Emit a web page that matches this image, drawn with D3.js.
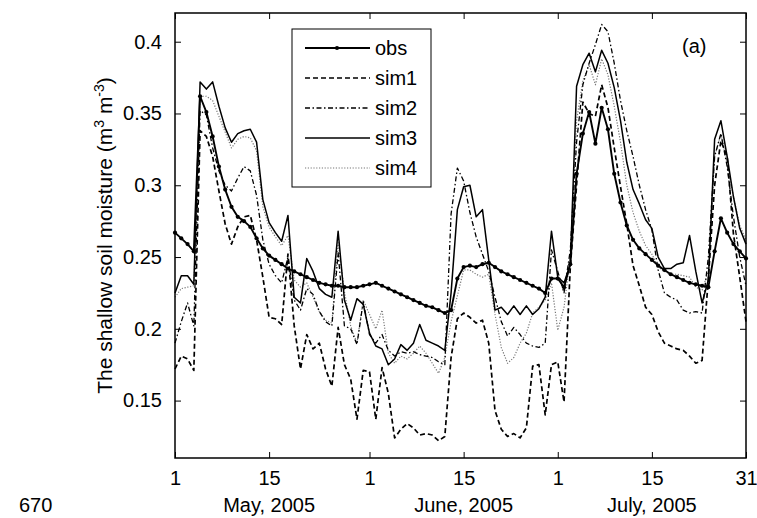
<!DOCTYPE html>
<html>
<head>
<meta charset="utf-8">
<script src="https://cdn.jsdelivr.net/npm/d3@7"></script>
<style>
  body { margin: 0; background: #fff; }
  text { font-family: "Liberation Sans", Arial, sans-serif; }
</style>
</head>
<body>
<script>
// day index 1 = May 1, 2005 ... 92 = July 31, 2005
const days = d3.range(1, 93);

const obs = [0.267,0.263,0.259,0.254,0.362,0.351,0.334,0.313,0.297,0.285,0.278,0.275,0.271,0.263,0.256,0.251,0.248,0.245,0.242,0.240,
  0.238,0.236,0.234,0.232,0.231,0.230,0.230,0.229,0.229,0.229,0.230,0.231,0.232,0.230,0.228,0.226,0.224,0.222,0.220,0.218,
  0.216,0.215,0.213,0.211,0.213,0.235,0.243,0.244,0.243,0.245,0.246,0.243,0.240,0.238,0.236,0.234,0.232,0.230,0.228,0.225,
  0.235,0.235,0.229,0.245,0.308,0.336,0.351,0.329,0.354,0.339,0.308,0.288,0.272,0.262,0.256,0.252,0.248,0.244,0.241,0.238,
  0.236,0.234,0.232,0.231,0.230,0.229,0.254,0.277,0.267,0.259,0.254,0.249];

const sim1 = [0.172,0.181,0.179,0.171,0.338,0.334,0.320,0.296,0.273,0.259,0.271,0.278,0.279,0.262,0.236,0.208,0.207,0.203,0.252,0.202,
  0.172,0.196,0.186,0.190,0.172,0.160,0.201,0.175,0.165,0.137,0.171,0.170,0.137,0.173,0.155,0.124,0.130,0.134,0.131,0.126,
  0.127,0.126,0.122,0.125,0.180,0.207,0.211,0.208,0.204,0.206,0.190,0.143,0.130,0.125,0.127,0.124,0.131,0.174,0.175,0.140,
  0.175,0.177,0.149,0.243,0.300,0.358,0.350,0.348,0.370,0.354,0.326,0.299,0.273,0.244,0.230,0.215,0.210,0.198,0.190,0.188,
  0.186,0.185,0.181,0.176,0.178,0.235,0.300,0.331,0.320,0.266,0.236,0.205];

const sim2 = [0.190,0.205,0.218,0.202,0.352,0.349,0.326,0.310,0.300,0.296,0.305,0.313,0.310,0.293,0.262,0.245,0.237,0.232,0.250,0.220,
  0.213,0.228,0.224,0.212,0.205,0.202,0.253,0.202,0.200,0.189,0.219,0.196,0.190,0.196,0.185,0.181,0.184,0.183,0.184,0.182,
  0.181,0.180,0.177,0.175,0.280,0.312,0.303,0.281,0.264,0.252,0.240,0.222,0.205,0.195,0.201,0.196,0.190,0.188,0.187,0.190,
  0.255,0.240,0.225,0.255,0.330,0.370,0.385,0.398,0.412,0.407,0.385,0.359,0.338,0.320,0.300,0.283,0.269,0.241,0.225,0.222,
  0.220,0.213,0.211,0.212,0.211,0.250,0.320,0.336,0.313,0.278,0.250,0.230];

const sim3 = [0.225,0.237,0.237,0.231,0.372,0.367,0.372,0.355,0.340,0.330,0.336,0.338,0.339,0.330,0.290,0.274,0.267,0.261,0.279,0.222,
  0.218,0.249,0.240,0.228,0.224,0.222,0.268,0.220,0.206,0.221,0.217,0.197,0.188,0.186,0.175,0.179,0.189,0.185,0.190,0.203,
  0.192,0.190,0.188,0.185,0.225,0.283,0.299,0.300,0.278,0.283,0.248,0.213,0.215,0.210,0.216,0.210,0.216,0.210,0.214,0.222,
  0.268,0.236,0.232,0.245,0.369,0.384,0.392,0.379,0.394,0.385,0.368,0.345,0.316,0.297,0.287,0.276,0.270,0.250,0.242,0.242,
  0.245,0.246,0.265,0.240,0.218,0.234,0.332,0.345,0.320,0.292,0.270,0.259];

const sim4 = [0.222,0.228,0.229,0.230,0.362,0.362,0.359,0.348,0.337,0.326,0.332,0.334,0.333,0.324,0.285,0.271,0.264,0.258,0.265,0.234,
  0.229,0.232,0.222,0.212,0.206,0.204,0.260,0.226,0.202,0.190,0.220,0.210,0.200,0.213,0.183,0.176,0.181,0.179,0.183,0.188,
  0.183,0.176,0.169,0.180,0.205,0.223,0.241,0.241,0.238,0.236,0.238,0.210,0.187,0.176,0.180,0.190,0.197,0.211,0.215,0.220,
  0.232,0.199,0.215,0.250,0.345,0.373,0.384,0.370,0.388,0.377,0.355,0.330,0.300,0.281,0.268,0.258,0.252,0.243,0.240,0.238,
  0.238,0.237,0.236,0.229,0.227,0.240,0.320,0.336,0.315,0.292,0.272,0.262];

const xTickDays = [1, 16, 32, 47, 62, 77, 92];
const xTickLabels = ["1", "15", "1", "15", "1", "15", "31"];
const monthDays = [16, 47, 77];
const monthLabels = ["May, 2005", "June, 2005", "July, 2005"];
const yTicks = [0.15, 0.2, 0.25, 0.3, 0.35, 0.4];

const width = 757, height = 518;
const marginTop = 13, marginRight = 11, marginBottom = 60, marginLeft = 175;
const fontSize = 20;

const x = d3.scaleLinear()
    .domain([1, 92])
    .range([marginLeft, width - marginRight]);

const y = d3.scaleLinear()
    .domain([0.11, 0.42])
    .range([height - marginBottom, marginTop]);

const svg = d3.select("body")
    .append("svg")
    .attr("width", width)
    .attr("height", height)
    .style("background", "white");

// series styles
const series = [
    {name: "obs",  values: obs,  width: 1.9, dash: null,            color: "#000"},
    {name: "sim1", values: sim1, width: 1.7, dash: "5,3",           color: "#000"},
    {name: "sim2", values: sim2, width: 1.3, dash: "5,2.5,1.5,2.5", color: "#000"},
    {name: "sim3", values: sim3, width: 1.5, dash: null,            color: "#000"},
    {name: "sim4", values: sim4, width: 1.2, dash: "1.2,1.6",       color: "#777"}
];

const line = d3.line()
    .x((d, i) => x(days[i]))
    .y(d => y(d));

const plot = svg.append("g");

// draw sims first, obs on top
[4, 3, 2, 1, 0].forEach(k => {
    const s = series[k];
    plot.append("path")
        .datum(s.values)
        .attr("fill", "none")
        .attr("stroke", s.color)
        .attr("stroke-width", s.width)
        .attr("stroke-dasharray", s.dash)
        .attr("stroke-linejoin", "round")
        .attr("d", line);
});

plot.selectAll("circle.obs")
    .data(obs)
    .join("circle")
    .attr("class", "obs")
    .attr("cx", (d, i) => x(days[i]))
    .attr("cy", d => y(d))
    .attr("r", 2.1)
    .attr("fill", "#000");

// axes: matlab style box with inward ticks on all sides
const tickLen = 6;
const axisStyle = g => {
    g.select(".domain").remove();
    g.selectAll("line").attr("stroke", "#000").attr("stroke-width", 1);
    g.selectAll("text").attr("font-size", fontSize).attr("fill", "#000");
};

svg.append("g")
    .attr("transform", `translate(0,${height - marginBottom})`)
    .call(d3.axisBottom(x).tickValues(xTickDays).tickFormat((d, i) => xTickLabels[i])
        .tickSizeInner(-tickLen).tickSizeOuter(0).tickPadding(13))
    .call(axisStyle);

svg.append("g")
    .attr("transform", `translate(0,${marginTop})`)
    .call(d3.axisTop(x).tickValues(xTickDays).tickFormat("").tickSizeInner(-tickLen).tickSizeOuter(0))
    .call(axisStyle);

svg.append("g")
    .attr("transform", `translate(${marginLeft},0)`)
    .call(d3.axisLeft(y).tickValues(yTicks).tickFormat(d3.format("")).tickSizeInner(-tickLen).tickSizeOuter(0).tickPadding(13))
    .call(axisStyle);

svg.append("g")
    .attr("transform", `translate(${width - marginRight},0)`)
    .call(d3.axisRight(y).tickValues(yTicks).tickFormat("").tickSizeInner(-tickLen).tickSizeOuter(0))
    .call(axisStyle);

svg.append("rect")
    .attr("x", marginLeft)
    .attr("y", marginTop)
    .attr("width", width - marginRight - marginLeft)
    .attr("height", height - marginBottom - marginTop)
    .attr("fill", "none")
    .attr("stroke", "#000")
    .attr("stroke-width", 1.5);

// month labels
svg.selectAll("text.month")
    .data(monthLabels)
    .join("text")
    .attr("class", "month")
    .attr("x", (d, i) => x(monthDays[i]))
    .attr("y", 512)
    .attr("text-anchor", "middle")
    .attr("font-size", fontSize)
    .text(d => d);

// page number
svg.append("text")
    .attr("x", 19)
    .attr("y", 512)
    .attr("font-size", fontSize)
    .text("670");

// y label
const ylab = svg.append("text")
    .attr("transform", `translate(112,${(marginTop + height - marginBottom) / 2}) rotate(-90)`)
    .attr("text-anchor", "middle")
    .attr("font-size", 21);
ylab.append("tspan").text("The shallow soil moisture (m");
ylab.append("tspan").attr("font-size", 14).attr("dy", -8).text("3");
ylab.append("tspan").attr("dy", 8).text(" m");
ylab.append("tspan").attr("font-size", 14).attr("dy", -8).text("-3");
ylab.append("tspan").attr("dy", 8).text(")");

// panel tag
svg.append("text")
    .attr("x", 682)
    .attr("y", 53)
    .attr("font-size", fontSize)
    .text("(a)");

// legend
const legend = svg.append("g");
legend.append("rect")
    .attr("x", 292)
    .attr("y", 29)
    .attr("width", 139)
    .attr("height", 158)
    .attr("fill", "white")
    .attr("stroke", "#000")
    .attr("stroke-width", 1);

series.forEach((s, i) => {
    const ly = 48 + i * 30;
    legend.append("line")
        .attr("x1", 305).attr("x2", 370)
        .attr("y1", ly).attr("y2", ly)
        .attr("stroke", s.color)
        .attr("stroke-width", s.width)
        .attr("stroke-dasharray", s.dash);
    if (s.name === "obs") {
        legend.append("circle").attr("cx", 337).attr("cy", ly).attr("r", 2.1).attr("fill", "#000");
    }
    legend.append("text")
        .attr("x", 375)
        .attr("y", ly + 7)
        .attr("font-size", fontSize)
        .text(s.name);
});
</script>
</body>
</html>
